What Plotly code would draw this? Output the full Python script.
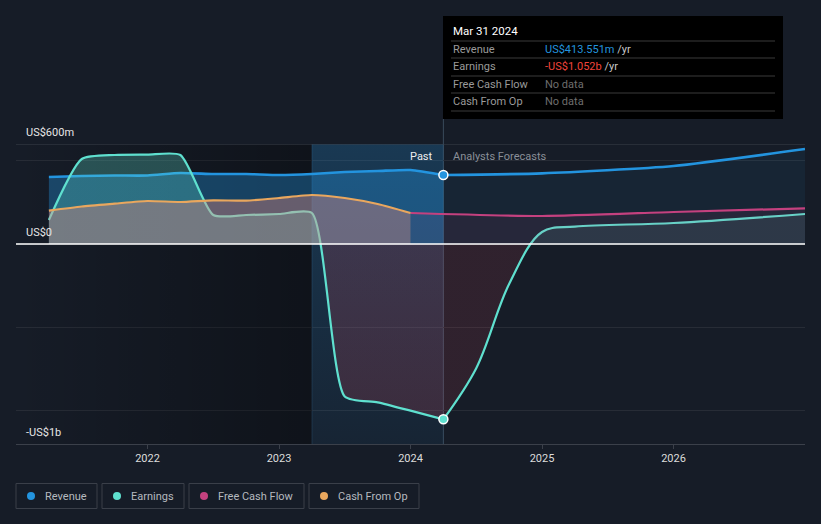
import plotly.graph_objects as go

# ---------------- data (values in US$ millions) ----------------
past_x = [2021.25, 2021.5, 2021.75, 2022.0, 2022.25, 2022.5, 2022.75,
          2023.0, 2023.25, 2023.5, 2023.75, 2024.0, 2024.25]
revenue_past = [402, 408, 411, 411, 426, 420, 420, 414, 420, 432, 438, 444, 413.551]
earnings_past = [144, 510, 534, 536, 534, 174, 174, 180, 186, -915, -950, -1000, -1052]

cfo_x = [2021.25, 2021.5, 2021.75, 2022.0, 2022.25, 2022.5, 2022.75,
         2023.0, 2023.25, 2023.5, 2023.75, 2024.0]
cfo_past = [200, 225, 242, 258, 252, 262, 260, 276, 294, 276, 240, 186]

rev_fc_x = [2024.25, 2025.0, 2026.0, 2027.0]
revenue_fc = [413.551, 424, 468, 570]

ear_fc_x = [2024.25, 2024.5, 2024.75, 2025.0, 2025.25, 2026.0, 2027.0]
earnings_fc = [-1052, -745, -240, 72, 104, 126, 180]

fcf_x = [2024.0, 2025.0, 2026.0, 2027.0]
fcf_fc = [186, 168, 192, 214]

year_ticks = [2022, 2023, 2024, 2025, 2026]
y_labels = ["US$600m", "US$0", "-US$1b"]
legend_names = ["Revenue", "Earnings", "Free Cash Flow", "Cash From Op"]
tooltip_date = "Mar 31 2024"
tooltip_rows = ["Revenue", "Earnings", "Free Cash Flow", "Cash From Op"]

# ---------------- styling ----------------
C_REV = "#2394df"
C_EAR = "#5fe0cf"
C_FCF = "#c4417f"
C_CFO = "#e9a75e"
BG = "#161c27"
W, H = 821, 524
L, R, T, B = 16, 16, 144, 80
PW, PH = W - L - R, H - T - B
YMIN, YMAX = -1200, 600
NOW = 2024.25

def px(x):
    return (x - L) / PW

def py(y):
    return (H - B - y) / PH

fig = go.Figure()

# darker past region (horizontal gradient)
fig.add_trace(go.Scatter(
    x=[2021.0, 2023.25, 2023.25, 2021.0, 2021.0], y=[YMAX, YMAX, YMIN, YMIN, YMAX],
    mode="lines", line=dict(width=0), fill="toself",
    fillgradient=dict(type="horizontal", start=2021.0, stop=2023.25,
                      colorscale=[[0, "rgba(0,0,0,0.0)"], [1, "rgba(0,0,0,0.33)"]]),
    hoverinfo="skip", showlegend=False))

# last-year highlight band (vertical gradient)
fig.add_trace(go.Scatter(
    x=[2023.25, NOW, NOW, 2023.25, 2023.25], y=[YMAX, YMAX, YMIN, YMIN, YMAX],
    mode="lines", line=dict(width=0), fill="toself",
    fillgradient=dict(type="vertical", start=YMIN, stop=YMAX,
                      colorscale=[[0, "rgba(35,148,223,0.07)"], [1, "rgba(35,148,223,0.24)"]]),
    hoverinfo="skip", showlegend=False))

def series(x, y, color, fillcolor, width=2.2, grad=None, smoothing=0.6):
    kw = dict(x=x, y=y, mode="lines",
              line=dict(color=color, width=width, shape="spline", smoothing=smoothing),
              fill="tozeroy", hoverinfo="skip", showlegend=False)
    if grad is not None:
        kw["fillgradient"] = grad
    else:
        kw["fillcolor"] = fillcolor
    fig.add_trace(go.Scatter(**kw))

f0 = (0 - YMIN) / (YMAX - YMIN)

def sign_grad(neg, pos):
    return dict(type="vertical", start=YMIN, stop=YMAX,
                colorscale=[[0, neg], [f0, neg], [f0 + 0.0005, pos], [1, pos]])

# revenue
series(past_x, revenue_past, C_REV, "rgba(35,148,223,0.36)", width=2.6)
series(rev_fc_x, revenue_fc, C_REV, "rgba(35,148,223,0.08)", width=2.6)
# earnings
series(past_x, earnings_past, C_EAR, None,
       grad=sign_grad("rgba(235,75,95,0.17)", "rgba(95,224,207,0.28)"))
series(ear_fc_x, earnings_fc, C_EAR, None, smoothing=1.0,
       grad=sign_grad("rgba(235,75,95,0.12)", "rgba(95,224,207,0.10)"))
# free cash flow forecast
series(fcf_x, fcf_fc, C_FCF, "rgba(196,65,127,0.09)")
# cash from op past
series(cfo_x, cfo_past, C_CFO, "rgba(233,140,130,0.38)")

# current markers
fig.add_trace(go.Scatter(x=[past_x[-1]], y=[revenue_past[-1]], mode="markers",
                         marker=dict(size=9, color=C_REV, line=dict(color="white", width=1.5)),
                         hoverinfo="skip", showlegend=False))
fig.add_trace(go.Scatter(x=[past_x[-1]], y=[earnings_past[-1]], mode="markers",
                         marker=dict(size=9, color=C_EAR, line=dict(color="white", width=1.5)),
                         hoverinfo="skip", showlegend=False))

shapes = []
annots = []
# top line, zero line, vertical lines
shapes.append(dict(type="line", xref="paper", yref="y", x0=0, x1=1, y0=YMAX, y1=YMAX,
                   line=dict(color="#3b404a", width=1), layer="above"))
shapes.append(dict(type="line", xref="paper", yref="y", x0=0, x1=1, y0=0, y1=0,
                   line=dict(color="#ffffff", width=1.3), layer="above"))
shapes.append(dict(type="line", xref="x", yref="y", x0=2023.25, x1=2023.25, y0=YMIN, y1=YMAX,
                   line=dict(color="rgba(60,110,150,0.35)", width=1), layer="below"))
shapes.append(dict(type="line", xref="x", yref="paper", x0=NOW, x1=NOW, y0=0, y1=py(119),
                   line=dict(color="#3a4a5c", width=1), layer="below"))

# y labels
for txt, ypix in zip(y_labels, [132, 232, 432]):
    annots.append(dict(text=txt, xref="paper", yref="paper", x=px(24), y=py(ypix),
                       xanchor="left", yanchor="middle", showarrow=False,
                       font=dict(color="#e6e6e6", size=11)))

# Past / Analysts Forecasts
annots.append(dict(text="Past", xref="paper", yref="paper", x=px(435), y=py(156),
                   xanchor="right", yanchor="middle", showarrow=False,
                   font=dict(color="#eeeeee", size=11)))
annots.append(dict(text="Analysts Forecasts", xref="paper", yref="paper", x=px(451), y=py(156),
                   xanchor="left", yanchor="middle", showarrow=False,
                   font=dict(color="#8a8f98", size=11)))

# tooltip
shapes.append(dict(type="rect", xref="paper", yref="paper", x0=px(443), x1=px(783),
                   y0=py(119), y1=py(16), fillcolor="#000000", line=dict(width=0), layer="above"))
for ys in [41, 58, 76, 93, 111]:
    shapes.append(dict(type="line", xref="paper", yref="paper", x0=px(451), x1=px(775),
                       y0=py(ys), y1=py(ys), line=dict(color="#3a3a3a", width=1), layer="above"))
annots.append(dict(text=tooltip_date, xref="paper", yref="paper", x=px(451), y=py(31),
                   xanchor="left", yanchor="middle", showarrow=False,
                   font=dict(color="#ffffff", size=11.5)))
values = [f'<span style="color:{C_REV}">US${revenue_past[-1]:.3f}m</span> /yr',
          f'<span style="color:#f0453b">-US${abs(earnings_past[-1]) / 1000:.3f}b</span> /yr',
          '<span style="color:#6e6e6e">No data</span>',
          '<span style="color:#6e6e6e">No data</span>']
for lab, val, ys in zip(tooltip_rows, values, [49.5, 66.5, 84.5, 101.5]):
    annots.append(dict(text=lab, xref="paper", yref="paper", x=px(451), y=py(ys),
                       xanchor="left", yanchor="middle", showarrow=False,
                       font=dict(color="#9a9a9a", size=11)))
    annots.append(dict(text=val, xref="paper", yref="paper", x=px(543), y=py(ys),
                       xanchor="left", yanchor="middle", showarrow=False,
                       font=dict(color="#c8c8c8", size=11)))

# legend boxes
legend_colors = [C_REV, C_EAR, C_FCF, C_CFO]
boxes = [(16, 97), (102, 184), (189, 304), (309, 419)]
for name, col, (bx0, bx1) in zip(legend_names, legend_colors, boxes):
    shapes.append(dict(type="rect", xref="paper", yref="paper", x0=px(bx0), x1=px(bx1),
                       y0=py(508.5), y1=py(483.5), line=dict(color="#3a3f49", width=1),
                       fillcolor="rgba(0,0,0,0)", layer="above"))
    shapes.append(dict(type="circle", xref="paper", yref="paper",
                       x0=px(bx0 + 11), x1=px(bx0 + 19), y0=py(500), y1=py(492),
                       fillcolor=col, line=dict(width=0), layer="above"))
    annots.append(dict(text=name, xref="paper", yref="paper", x=px(bx0 + 27), y=py(496),
                       xanchor="left", yanchor="middle", showarrow=False,
                       font=dict(color="#b5b9bf", size=11)))

fig.update_layout(
    width=W, height=H, margin=dict(l=L, r=R, t=T, b=B),
    paper_bgcolor=BG, plot_bgcolor=BG,
    font=dict(family="Roboto, sans-serif", color="#d0d0d0", size=11),
    shapes=shapes, annotations=annots, showlegend=False,
    xaxis=dict(range=[2021.0, 2027.0], tickvals=year_ticks, ticktext=[str(t) for t in year_ticks],
               showgrid=False, zeroline=False, showline=True, linecolor="#3b404a", linewidth=1,
               ticks="outside", ticklen=4, tickcolor="#3b404a",
               tickfont=dict(color="#dcdcdc", size=11), fixedrange=True),
    yaxis=dict(range=[YMIN, YMAX], tickvals=[-1000, -500, 0, 500], showticklabels=False,
               showgrid=True, gridcolor="#272c36", gridwidth=1, zeroline=False, fixedrange=True),
)

fig.write_html("out.html")
